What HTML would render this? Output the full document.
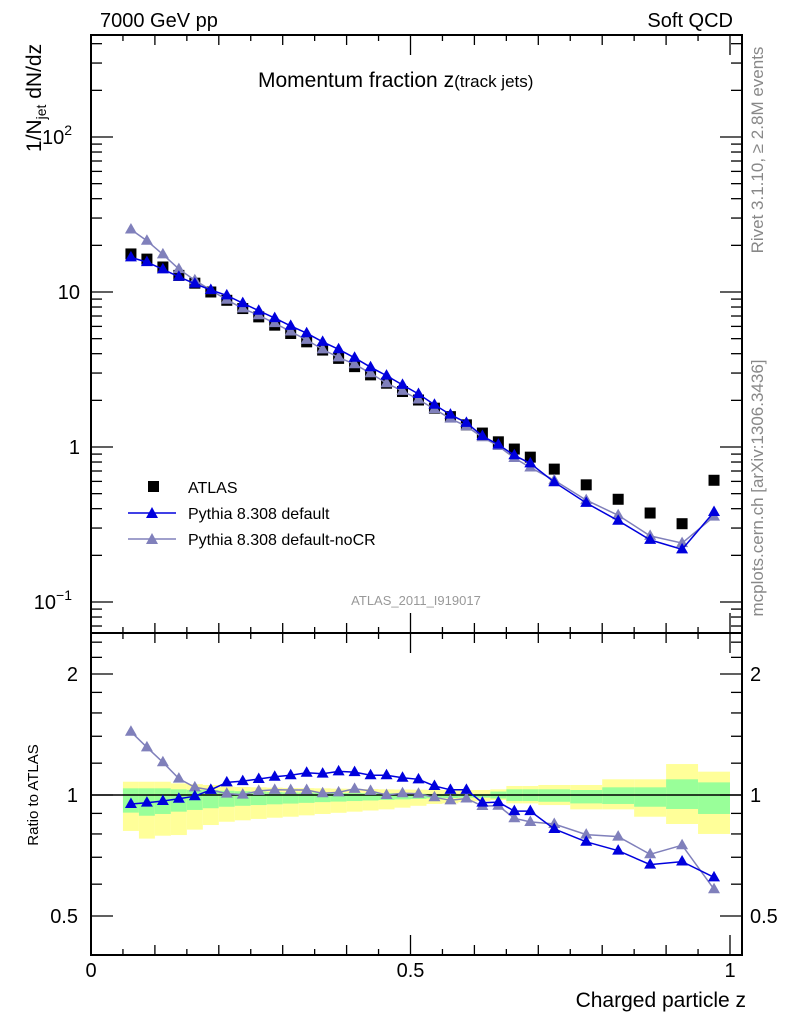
<!DOCTYPE html>
<html><head><meta charset="utf-8"><style>
html,body{margin:0;padding:0;background:#fff;}
svg{display:block;font-family:"Liberation Sans",sans-serif;}
</style></head><body>
<svg id="c" width="786" height="1024" viewBox="0 0 786 1024">
<g id="bands"></g><g id="marks"></g><g id="axes"></g>
<text x="100" y="27" font-size="20">7000 GeV pp</text>
<text x="733" y="27" font-size="20" text-anchor="end">Soft QCD</text>
<text x="258" y="87" font-size="21">Momentum fraction z<tspan font-size="17">(track jets)</tspan></text>
<text transform="translate(41,98) rotate(-90)" font-size="21" text-anchor="middle">1/N<tspan font-size="14" dy="5">jet</tspan><tspan dy="-5"> dN/dz</tspan></text>
<text transform="translate(38,795) rotate(-90)" font-size="15" text-anchor="middle">Ratio to ATLAS</text>
<text x="746" y="1007" font-size="21" text-anchor="end">Charged particle z</text>
<text transform="translate(763,150) rotate(-90)" font-size="17" fill="#888" text-anchor="middle">Rivet 3.1.10, ≥ 2.8M events</text>
<text transform="translate(763,488) rotate(-90)" font-size="17" fill="#888" text-anchor="middle">mcplots.cern.ch [arXiv:1306.3436]</text>
<text x="416" y="605" font-size="13" fill="#999" text-anchor="middle">ATLAS_2011_I919017</text>
<g>
<rect x="148" y="481" width="11" height="11" fill="#000"/>
<text x="188" y="493" font-size="16">ATLAS</text>
<line x1="128" y1="513" x2="176" y2="513" stroke="#0000dd" stroke-width="1.5"/>
<path d="M152,507 L158,518 L146,518 Z" fill="#0000dd"/>
<text x="188" y="519" font-size="16">Pythia 8.308 default</text>
<line x1="128" y1="539" x2="176" y2="539" stroke="#8080bb" stroke-width="1.5"/>
<path d="M152,533 L158,544 L146,544 Z" fill="#8080bb"/>
<text x="188" y="545" font-size="16">Pythia 8.308 default-noCR</text>
</g>
</svg>
<script>
const binEdges=[0.05,0.075,0.1,0.125,0.15,0.175,0.2,0.225,0.25,0.275,0.3,0.325,0.35,0.375,0.4,0.425,0.45,0.475,0.5,0.525,0.55,0.575,0.6,0.625,0.65,0.675,0.7,0.75,0.8,0.85,0.9,0.95,1.0];
const atlasValues=[17.6,16.3,14.5,12.8,11.4,10.0,8.84,7.82,6.91,6.11,5.4,4.77,4.22,3.73,3.3,2.92,2.58,2.28,2.01,1.78,1.57,1.39,1.23,1.08,0.97,0.86,0.72,0.57,0.46,0.375,0.32,0.61];
const ratioDefault=[0.95,0.957,0.966,0.979,0.993,1.03,1.075,1.083,1.096,1.11,1.12,1.136,1.13,1.145,1.14,1.12,1.12,1.104,1.094,1.053,1.03,1.03,0.957,0.96,0.912,0.912,0.823,0.765,0.727,0.671,0.683,0.624];
const ratioNoCR=[1.437,1.314,1.206,1.098,1.045,1.029,1.008,1.002,1.024,1.03,1.029,1.029,1.01,1.015,1.036,1.024,1.0,1.01,1.007,0.987,0.97,0.98,0.939,0.94,0.875,0.857,0.847,0.797,0.788,0.712,0.75,0.583];
const yellowHi=[1.079,1.079,1.079,1.069,1.064,1.059,1.049,1.047,1.045,1.043,1.041,1.040,1.039,1.037,1.036,1.035,1.033,1.032,1.031,1.030,1.029,1.029,1.029,1.033,1.053,1.053,1.059,1.059,1.094,1.094,1.194,1.143];
const yellowLo=[0.814,0.779,0.792,0.795,0.82,0.842,0.858,0.865,0.872,0.878,0.883,0.89,0.897,0.903,0.909,0.915,0.921,0.93,0.94,0.95,0.953,0.96,0.965,0.972,0.953,0.953,0.944,0.921,0.921,0.883,0.847,0.80];
const greenHi=[1.039,1.039,1.039,1.033,1.03,1.029,1.025,1.022,1.019,1.017,1.015,1.014,1.013,1.012,1.011,1.010,1.01,1.008,1.007,1.006,1.006,1.006,1.006,1.02,1.033,1.033,1.033,1.029,1.045,1.045,1.094,1.075];
const greenLo=[0.904,0.888,0.897,0.909,0.918,0.927,0.935,0.94,0.944,0.948,0.952,0.956,0.96,0.963,0.966,0.969,0.972,0.975,0.978,0.981,0.983,0.985,0.985,0.98,0.966,0.966,0.962,0.953,0.95,0.935,0.923,0.897];
const xTickLabels=["0","0.5","1"];
const mainTickLabels=[[-1,"10","−1"],[0,"1",""],[1,"10",""],[2,"10","2"]];
const ratioTickLabels=["0.5","1","2"];

const NS="http://www.w3.org/2000/svg";
const L=91,R=742,T=35,M=633,B=955;
const X=z=>91+z*639;
const YM=v=>447-155*Math.log10(v);
const YR=r=>795-121*Math.log2(r);
function mk(tag,attrs,parent){const e=document.createElementNS(NS,tag);for(const k in attrs)e.setAttribute(k,attrs[k]);parent.appendChild(e);return e;}
const bands=document.getElementById('bands'),marks=document.getElementById('marks'),axes=document.getElementById('axes');

for(let i=0;i<atlasValues.length;i++){
  const x0=X(binEdges[i]),x1=X(binEdges[i+1]);
  const y=mk('rect',{x:x0,y:YR(yellowHi[i]),width:x1-x0,height:YR(yellowLo[i])-YR(yellowHi[i]),fill:'#ffff99'},bands);
  
  
  const g=mk('rect',{x:x0,y:YR(greenHi[i]),width:x1-x0,height:YR(greenLo[i])-YR(greenHi[i]),fill:'#99ff99'},bands);
  
  
}
const one=mk('line',{x1:L,x2:R,y1:YR(1),y2:YR(1),stroke:'#000','stroke-width':1.5},bands);



const centers=atlasValues.map((v,i)=>(binEdges[i]+binEdges[i+1])/2);
function series(vals,fy,color,name){
  const pts=vals.map((v,i)=>X(centers[i]).toFixed(1)+','+fy(v).toFixed(1)).join(' ');
  const pl=mk('polyline',{points:pts,fill:'none',stroke:color,'stroke-width':1.5},marks);
  
  
  vals.forEach((v,i)=>{const x=X(centers[i]),y=fy(v);
    const p=mk('path',{d:`M${x},${y-6.5} L${x+6},${y+4} L${x-6},${y+4} Z`,fill:color},marks);
    
    });
}
const mcDefault=atlasValues.map((v,i)=>v*ratioDefault[i]);
const mcNoCR=atlasValues.map((v,i)=>v*ratioNoCR[i]);
atlasValues.forEach((v,i)=>{const r=mk('rect',{x:X(centers[i])-5.5,y:YM(v)-5.5,width:11,height:11,fill:'#000'},marks);
  
  });
series(mcNoCR,YM,'#8080bb','main-nocr');
series(mcDefault,YM,'#0000dd','main-default');
series(ratioNoCR,YR,'#8080bb','ratio-nocr');
series(ratioDefault,YR,'#0000dd','ratio-default');

[[T,M],[M,B]].forEach(([a,b],k)=>{const f=mk('rect',{x:L,y:a,width:R-L,height:b-a,fill:'none',stroke:'#000','stroke-width':2},axes);
  
  });
for(let k=0;k<=20;k++){const z=k*0.05,x=X(z);const len=(k%10==0)?20:(k%2==0?10:6);
  [[T,1],[M,-1],[M,1],[B,-1]].forEach(([y0,d])=>mk('line',{x1:x,x2:x,y1:y0,y2:y0+d*len,stroke:'#000','stroke-width':1.3},axes));}
xTickLabels.forEach((t,i)=>{const e=mk('text',{x:X(i*0.5),y:977,'font-size':20,'text-anchor':'middle'},axes);e.textContent=t;
  
  });
for(let d=-2;d<=2;d++)for(let m=1;m<=9;m++){const v=m*Math.pow(10,d),y=YM(v);if(y<T||y>M)continue;const len=m==1?22:11;
  mk('line',{x1:L,x2:L+len,y1:y,y2:y,stroke:'#000','stroke-width':1.3},axes);
  mk('line',{x1:R,x2:R-len,y1:y,y2:y,stroke:'#000','stroke-width':1.3},axes);}
mainTickLabels.forEach(([p,b,s])=>{const e=mk('text',{x:s?72:80,y:YM(Math.pow(10,p))+7,'font-size':20,'text-anchor':'end'},axes);
  e.textContent=b;if(s){const t=mk('tspan',{dy:-9,'font-size':14},e);t.textContent=s;}
  
  });
[0.5,0.6,0.7,0.8,0.9,1,1.2,1.4,1.6,1.8,2,2.2,2.4].forEach(r=>{const y=YR(r);if(y<M||y>B)return;const len=(r==0.5||r==1||r==2)?22:11;
  mk('line',{x1:L,x2:L+len,y1:y,y2:y,stroke:'#000','stroke-width':1.3},axes);
  mk('line',{x1:R,x2:R-len,y1:y,y2:y,stroke:'#000','stroke-width':1.3},axes);});
ratioTickLabels.forEach(t=>{const y=YR(parseFloat(t))+7;
  const a=mk('text',{x:78,y:y,'font-size':20,'text-anchor':'end'},axes);a.textContent=t;
  
  
  const b=mk('text',{x:750,y:y,'font-size':20},axes);b.textContent=t;
  
  });
</script>
</body></html>
